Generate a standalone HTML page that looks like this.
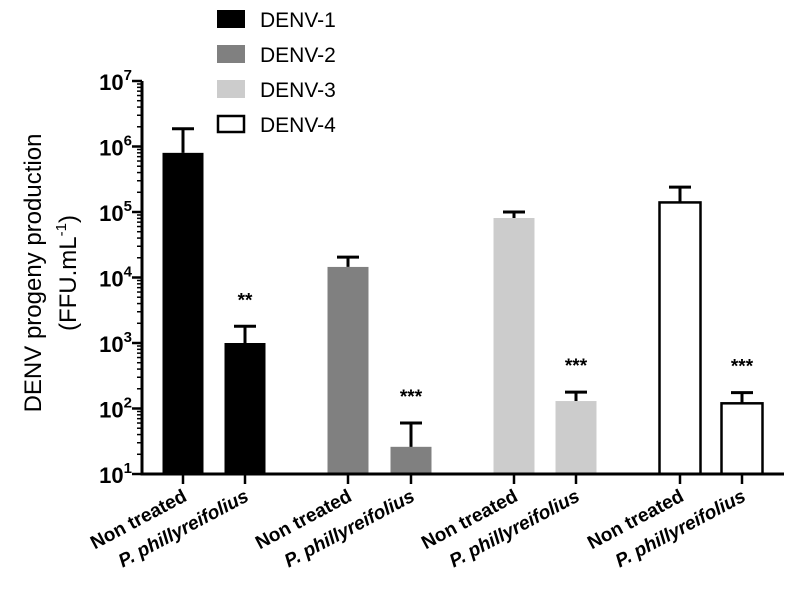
<!DOCTYPE html>
<html><head><meta charset="utf-8"><style>
html,body{margin:0;padding:0;background:#fff}
svg{display:block;font-family:"Liberation Sans",Arial,sans-serif}
</style></head><body>
<svg id="chart" width="796" height="595" viewBox="0 0 796 595"></svg>
<script>
const categories=["Non treated","P. phillyreifolius","Non treated","P. phillyreifolius","Non treated","P. phillyreifolius","Non treated","P. phillyreifolius"];
const barValues=[800000,1000,14500,26,81000,130,140000,120];
const errorTops=[1870000,1800,20500,60,100000,178,240000,175];
const stars=["","**","","***","","***","","***"];
const legendLabels=["DENV-1","DENV-2","DENV-3","DENV-4"];
const yTickExps=[1,2,3,4,5,6,7];

const svg=document.getElementById('chart');
const NS='http://www.w3.org/2000/svg';
function mk(tag,attrs,parent){const e=document.createElementNS(NS,tag);for(const k in attrs)e.setAttribute(k,attrs[k]);(parent||svg).appendChild(e);return e;}
const fills=['#000','#808080','#cccccc','#fff'];
const x0=142,yBase=474,dec=65.5;
function y(v){return yBase-dec*(Math.log10(v)-1);}
const centers=[183,245,348,411,514,576,680,742];
function xc(i){return centers[i];}
const bw=41;

categories.forEach((c,i)=>{
  const g=Math.floor(i/2);
  const top=y(barValues[i]), et=y(errorTops[i]);
  const b=mk('rect',{x:xc(i)-bw/2,y:top,width:bw,height:yBase-top,fill:fills[g],stroke:g===3?'#000':'none','stroke-width':2.5});
  
  
  const e=mk('path',{d:`M${xc(i)} ${top} V${et} M${xc(i)-11} ${et} H${xc(i)+11}`,stroke:'#000','stroke-width':3,fill:'none'});
  
  
  if(stars[i]){const t=mk('text',{x:xc(i),y:et-20,'text-anchor':'middle','font-size':19,'font-weight':'bold'});t.textContent=stars[i];
    
    }
  mk('line',{x1:xc(i),x2:xc(i),y1:yBase,y2:yBase+10,stroke:'#000','stroke-width':2.5});
  const lx=xc(i)+5, ly=yBase+26;
  const lab=mk('text',{x:lx,y:ly,'text-anchor':'end','font-size':19,'font-weight':'bold','font-style':i%2?'italic':'normal',transform:`rotate(-28 ${lx} ${ly})`});
  lab.textContent=c;
  
  
});

const ax=mk('path',{d:`M${x0} ${y(1e7)} V${yBase} H784`,stroke:'#000','stroke-width':3,fill:'none'});


yTickExps.forEach(ex=>{
  const yy=y(Math.pow(10,ex));
  mk('line',{x1:x0-10,x2:x0,y1:yy,y2:yy,stroke:'#000','stroke-width':2.5});
  if(ex<7){for(let m=2;m<=9;m++){const ym=y(m*Math.pow(10,ex));mk('line',{x1:x0-5,x2:x0,y1:ym,y2:ym,stroke:'#000','stroke-width':1.5});}}
  const t=mk('text',{x:x0-10,y:yy+9,'text-anchor':'end','font-size':22,'font-weight':'bold'});
  
  
  t.innerHTML='10<tspan dy="-10" font-size="15">'+ex+'</tspan>';
});

const yt=mk('text',{transform:'translate(41,273) rotate(-90)','text-anchor':'middle','font-size':24});
yt.textContent='DENV progeny production';


const yt2=mk('text',{transform:'translate(76,273) rotate(-90)','text-anchor':'middle','font-size':24});
yt2.innerHTML='(FFU.mL<tspan dy="-10" font-size="15">-1</tspan><tspan dy="10">)</tspan>';



legendLabels.forEach((l,i)=>{
  const cy=19+35*i;
  const g=mk('g',{});
  
  
  mk('rect',{x:i===3?218:217,y:cy-(i===3?8:9),width:i===3?26:28,height:i===3?16:18,fill:fills[i],stroke:i===3?'#000':'none','stroke-width':2.5},g);
  const t=mk('text',{x:260,y:cy+8,'font-size':21},g);t.textContent=l;
});
</script>
</body></html>
